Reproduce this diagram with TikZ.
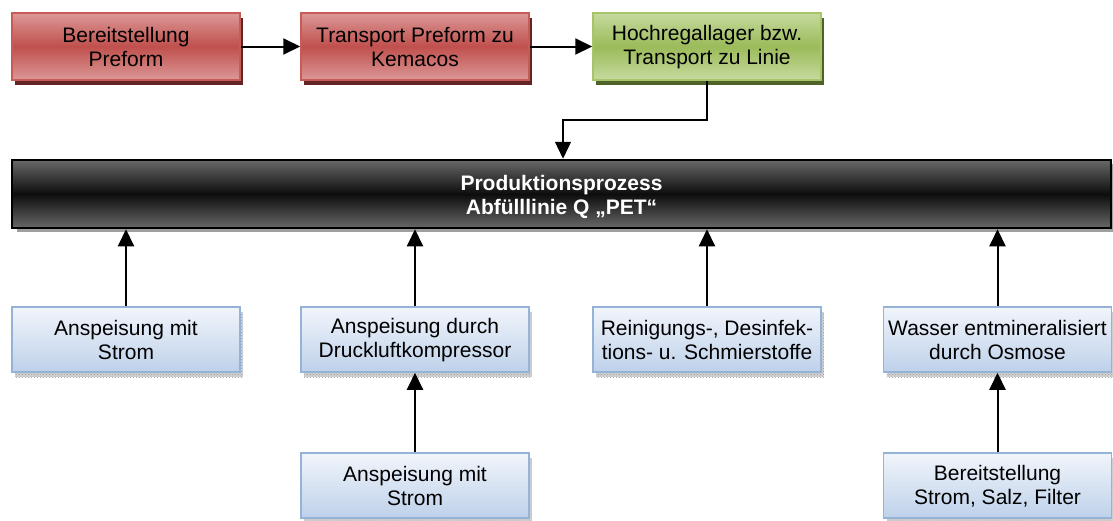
\documentclass[tikz,border=0pt]{standalone}
\usepackage{fontspec}
\setmainfont{Liberation Sans}
\usetikzlibrary{arrows.meta,shadows,patterns}

\definecolor{redtop}{HTML}{DB9897}
\definecolor{redmid}{HTML}{C0504D}
\definecolor{redline}{HTML}{C65B58}
\definecolor{redshadow}{HTML}{632523}
\definecolor{greentop}{HTML}{C6DA9E}
\definecolor{greenmid}{HTML}{9BBB59}
\definecolor{greenline}{HTML}{A6C46A}
\definecolor{greenshadow}{HTML}{4F6228}
\definecolor{bluetop}{HTML}{F1F5FB}
\definecolor{bluebot}{HTML}{BED1EA}
\definecolor{blueline}{HTML}{95B3D7}
\definecolor{barshade}{HTML}{686868}

\tikzset{
  box/.style={rectangle, minimum width=228pt, minimum height=67pt, inner sep=0pt,
    align=center, text=black, text height=41pt, font=\fontsize{21}{24}\selectfont},
  redbox/.style={box, draw=redline, line width=1.5pt,
    top color=redtop, bottom color=redtop, middle color=redmid,
    general shadow={shadow xshift=3pt, shadow yshift=-5pt, fill=redshadow}},
  greenbox/.style={box, draw=greenline, line width=1.5pt,
    top color=greentop, bottom color=greentop, middle color=greenmid,
    general shadow={shadow xshift=3pt, shadow yshift=-5pt, fill=greenshadow}},
  bluebox/.style={box, minimum height=65pt, draw=blueline, line width=1.5pt,
    top color=bluetop, bottom color=bluebot,
    general shadow={shadow xshift=3pt, shadow yshift=-5pt, fill=gray!35,
      postaction={pattern=crosshatch dots, pattern color=gray!80}}},
  barbox/.style={rectangle, minimum width=1099pt, minimum height=68pt, inner sep=0pt,
    align=center, text=white, text height=44.5pt,
    font=\bfseries\fontsize{21}{24}\selectfont,
    draw=black, line width=2.5pt,
    top color=barshade, bottom color=barshade, middle color=black!95,
    general shadow={shadow xshift=5pt, shadow yshift=-4pt, fill=gray!75}},
  arr/.style={line width=2pt, -{Triangle[length=17pt,width=16pt]}},
  thin arr/.style={line width=1.3pt, -{Triangle[length=17pt,width=16pt]}}
}

\begin{document}
\begin{tikzpicture}[x=1pt,y=-1pt]
\useasboundingbox (0,0) rectangle (1113,520);

% supply chain of the preforms
\node[redbox]   (bereit) at (126,46.5) {Bereitstellung\\Preform};
\node[redbox]   (transp) at (415,46.5) {Transport Preform zu\\Kemacos};
\node[greenbox] (hoch)   at (707,46.5) {Hochregallager bzw.\\Transport zu Linie};

% central production process
\node[barbox] (bar) at (561.5,194) {Produktionsprozess\\Abfülllinie Q „PET“};

% direct inputs
\node[bluebox] (strom1) at (126,339.5)   {Anspeisung mit\\Strom};
\node[bluebox] (druck)  at (415,339.5)   {Anspeisung durch\\Druckluftkompressor};
\node[bluebox] (rein)   at (707,339.5)   {Reinigungs-, Desinfek-\\tions- u. Schmierstoffe};
\node[bluebox] (wasser) at (997.5,339.5) {Wasser entmineralisiert\\durch Osmose};

% second-level inputs
\node[bluebox] (strom2) at (415,485.5)   {Anspeisung mit\\Strom};
\node[bluebox] (salz)   at (997.5,485.5) {Bereitstellung\\Strom, Salz, Filter};

% connectors
\draw[arr] (bereit) -- (transp);
\draw[arr] (transp) -- (hoch);
\coordinate (elbow) at (563,120);
\draw[thin arr] (hoch.south) |- (elbow) -- (bar.north -| elbow);

\draw[arr] (strom1.north) -- (bar.south -| strom1.north);
\draw[arr] (druck.north)  -- (bar.south -| druck.north);
\draw[arr] (rein.north)   -- (bar.south -| rein.north);
\draw[arr] (wasser.north) -- (bar.south -| wasser.north);

\draw[arr] (strom2) -- (druck);
\draw[arr] (salz)   -- (wasser);
\end{tikzpicture}
\end{document}
